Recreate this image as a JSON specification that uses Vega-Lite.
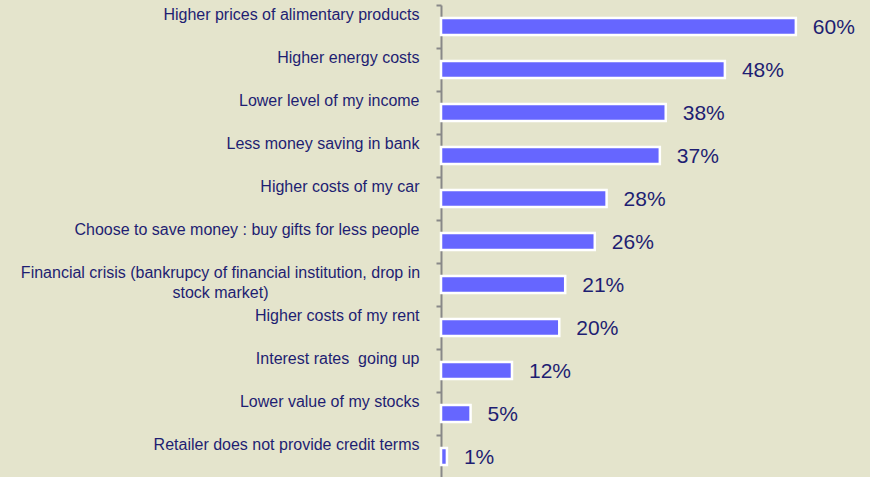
{
  "$schema": "https://vega.github.io/schema/vega-lite/v6.json",
  "autosize": {"type": "none"},
  "padding": {"left": 441, "top": 5, "right": 15, "bottom": 0},
  "width": 414,
  "height": 473,
  "background": "#E4E4CC",
  "config": {"view": {"stroke": null}, "font": "Liberation Sans"},
  "data": {
    "values": [
      {"factor": "Higher prices of alimentary products", "pct": 60},
      {"factor": "Higher energy costs", "pct": 48},
      {"factor": "Lower level of my income", "pct": 38},
      {"factor": "Less money saving in bank", "pct": 37},
      {"factor": "Higher costs of my car", "pct": 28},
      {"factor": "Choose to save money : buy gifts for less people", "pct": 26},
      {"factor": "Financial crisis (bankrupcy of financial institution, drop in|stock market)", "pct": 21},
      {"factor": "Higher costs of my rent", "pct": 20},
      {"factor": "Interest rates\u00a0 going up", "pct": 12},
      {"factor": "Lower value of my stocks", "pct": 5},
      {"factor": "Retailer does not provide credit terms", "pct": 1}
    ]
  },
  "transform": [{"calculate": "datum.pct + '%'", "as": "pctLabel"}],
  "encoding": {
    "y": {
      "field": "factor",
      "type": "nominal",
      "sort": null,
      "scale": {"paddingInner": 0, "paddingOuter": 0},
      "axis": {
        "title": null,
        "bandPosition": 0,
        "domainColor": "#888888",
        "domainWidth": 2,
        "tickColor": "#888888",
        "tickWidth": 2,
        "tickSize": 5,
        "labelColor": "#1E1E72",
        "labelFontSize": 16,
        "labelFont": "Liberation Sans",
        "labelLimit": 0,
        "labelExpr": "split(datum.label, '|')",
        "labelAlign": {"condition": {"test": "indexof(datum.value, 'Financial') == 0", "value": "center"}, "value": "right"},
        "labelPadding": {"condition": {"test": "indexof(datum.value, 'Financial') == 0", "value": 216}, "value": 17},
        "labelOffset": -12,
        "labelBaseline": "middle",
        "labelLineHeight": 20
      }
    },
    "x": {
      "field": "pct",
      "type": "quantitative",
      "scale": {"domain": [0, 70]},
      "axis": null
    }
  },
  "layer": [
    {
      "mark": {"type": "bar", "height": {"band": 0.4}, "color": "#6666FF", "stroke": "#FFFFFF", "strokeWidth": 2.5}
    },
    {
      "mark": {"type": "text", "align": "left", "baseline": "middle", "dx": 17, "dy": 1, "fontSize": 21, "color": "#1E1E72", "font": "Liberation Sans"},
      "encoding": {"text": {"field": "pctLabel", "type": "nominal"}}
    }
  ]
}
